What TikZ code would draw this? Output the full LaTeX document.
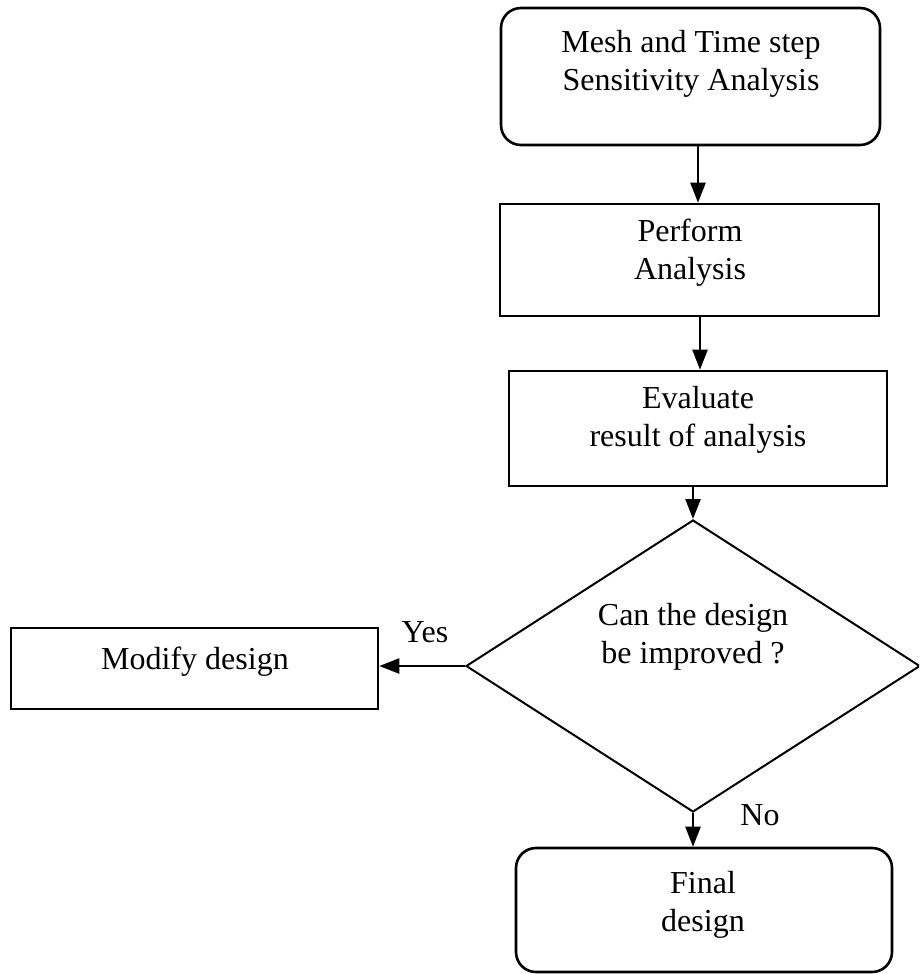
\documentclass[tikz,border=0pt]{standalone}
\usepackage{fontspec}
\setmainfont{Liberation Serif}
\usetikzlibrary{shapes.geometric,arrows.meta}
\begin{document}
\begin{tikzpicture}[x=1pt,y=-1pt,
  box/.style={draw,line width=2.6pt,rectangle,inner sep=0pt,anchor=center},
  rbox/.style={box,rounded corners=20pt},
  dec/.style={draw,line width=2pt,diamond,inner sep=0pt,minimum width=454pt,minimum height=292pt},
  txt/.style={align=center,font=\fontsize{32}{38}\selectfont,inner sep=0pt},
  arr/.style={line width=2.4pt,-{Triangle[length=20pt,width=15pt]}}]
\useasboundingbox (0,0) rectangle (919,974);
\begin{scope}
\clip (0,0) rectangle (919,974);
\node[rbox,minimum width=379pt,minimum height=137pt] (top) at (690.5,76.5) {};
\node[box,minimum width=379pt,minimum height=112pt] (perf) at (689.5,260) {};
\node[box,minimum width=378pt,minimum height=115pt] (eval) at (698,428.5) {};
\node[dec] (dia) at (693,666) {};
\node[box,minimum width=367pt,minimum height=81pt] (mod) at (194.5,668.5) {};
\node[rbox,minimum width=376pt,minimum height=124pt] (fin) at (704,910) {};
\end{scope}
\node[txt] (ttop) at (691,64) {Mesh and Time step\\Sensitivity Analysis};
\node[txt] (tperf) at (690,253) {Perform\\Analysis};
\node[txt] (teval) at (698,420) {Evaluate\\result of analysis};
\node[txt] (tdia) at (693,637) {Can the design\\be improved ?};
\node[txt] (tmod) at (195,662) {Modify design};
\node[txt] (tfin) at (703,905) {Final\\design};
\node[txt] (yes) at (425,632) {Yes};
\node[txt] (no) at (760,815) {No};
\coordinate (a1) at (698,0);
\coordinate (a2) at (700,0);
\coordinate (a3) at (693,0);
\draw[arr] (top.south -| a1) -- (perf.north -| a1);
\draw[arr] (perf.south -| a2) -- (eval.north -| a2);
\draw[arr] (eval.south -| a3) -- (dia.north);
\draw[arr] (dia.west) -- (mod.east |- dia.west);
\draw[arr] (dia.south) -- (fin.north -| dia.south);
\end{tikzpicture}
\end{document}
